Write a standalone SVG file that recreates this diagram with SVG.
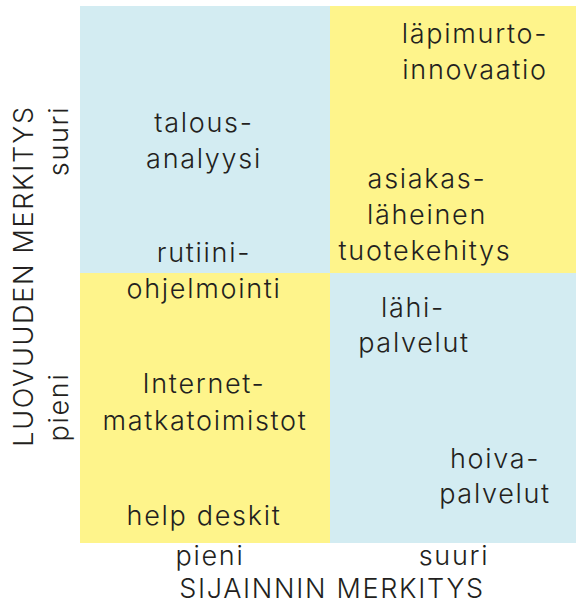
<svg xmlns="http://www.w3.org/2000/svg" width="576" height="605" viewBox="0 0 576 605">
<style>
text{font-family:Inter,"Open Sans","Liberation Sans",sans-serif;font-size:27px;font-weight:350;letter-spacing:1.7px;fill:#231f20;text-anchor:middle}
.b{fill:#d3ecf2}.y{fill:#fef48b}
</style>
<rect width="576" height="605" fill="#ffffff"/>
<g id="q-top-left"><rect class="b" x="80" y="6" width="250" height="267"/></g>
<g id="q-top-right"><rect class="y" x="330" y="6" width="246" height="267"/></g>
<g id="q-bottom-left"><rect class="y" x="80" y="273" width="250" height="270"/></g>
<g id="q-bottom-right"><rect class="b" x="330" y="273" width="246" height="270"/></g>
<g id="n-talous"><text x="204" y="132">talous-</text><text x="204" y="168">analyysi</text></g>
<g id="n-lapimurto"><text x="475" y="43">läpimurto-</text><text x="475" y="79">innovaatio</text></g>
<g id="n-asiakas"><text x="427" y="188">asiakas-</text><text x="427" y="224">läheinen</text><text x="425" y="260">tuotekehitys</text></g>
<g id="n-rutiini"><text x="204" y="262">rutiini-</text><text x="204" y="298">ohjelmointi</text></g>
<g id="n-internet"><text x="204" y="393">Internet-</text><text x="205" y="430">matkatoimistot</text></g>
<g id="n-help"><text x="204" y="525">help deskit</text></g>
<g id="n-lahi"><text x="413" y="317">lähi-</text><text x="414" y="352">palvelut</text></g>
<g id="n-hoiva"><text x="495" y="468">hoiva-</text><text x="495" y="503">palvelut</text></g>
<g id="axis-x"><text x="210" y="565">pieni</text><text x="454" y="565">suuri</text><text x="332" y="598">SIJAINNIN MERKITYS</text></g>
<g id="axis-y"><text transform="translate(33,276) rotate(-90)">LUOVUUDEN MERKITYS</text><text transform="translate(68,141) rotate(-90)">suuri</text><text transform="translate(68,407) rotate(-90)">pieni</text></g>
</svg>
